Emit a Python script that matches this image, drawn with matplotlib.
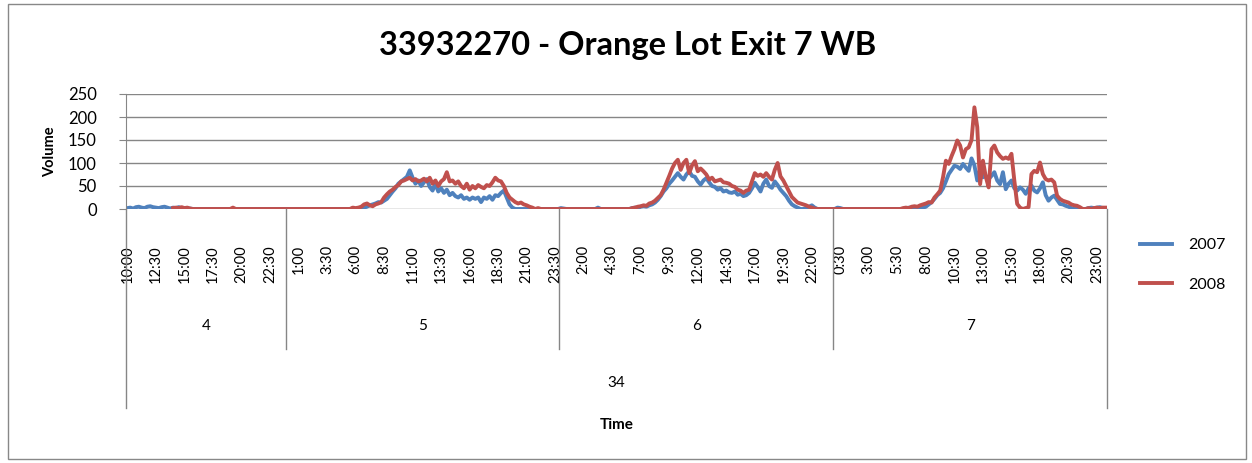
import numpy as np
import matplotlib
matplotlib.use("Agg")
import matplotlib.pyplot as plt
from matplotlib.patches import Rectangle
from matplotlib.transforms import blended_transform_factory

plt.rcParams["font.family"] = ["Lato", "DejaVu Sans"]

# 15-minute volumes, one list per day (day 4 starts at 10:00, the rest at 0:00)
N = None
day4_2007 = [2, 3, 1, 4, 5, 3, 2, 5,
             6, 4, 3, 2, 4, 5, 3, 1,
             3, 2, 4, 1, 2, 0, 1, 0,
             0, 0, 0, 0, 0, 0, 0, 0,
             0, 0, 0, 0, 0, 0, 0, 0,
             0, 0, 0, 0, 0, 0, 0, 0,
             0, 0, 0, 0, 0, 0, 0, 0]
day4_2008 = [N, N, N, N, N, N, N, N,
             N, N, N, N, N, N, N, N,
             2, 3, 2, 4, 2, 3, 1, 0,
             0, 0, 0, 0, 0, 0, 0, 0,
             0, 0, 0, 0, 0, 3, 0, 0,
             0, 0, 0, 0, 0, 0, 0, 0,
             0, 0, 0, 0, 0, 0, 0, 0]

day5_2007 = [0, 0, 0, 0, 0, 0, 0, 0,
             0, 0, 0, 0, 0, 0, 0, 0,
             0, 0, 0, 0, 0, 0, 0, 0,
             0, 1, 2, 3, 5, 8, 10, 12,
             15, 14, 18, 22, 30, 38, 45, 55,
             60, 65, 70, 84, 68, 55, 62, 50,
             58, 65, 48, 40, 55, 38, 45, 35,
             42, 30, 35, 28, 25, 30, 22, 25,
             20, 25, 22, 25, 15, 25, 22, 28,
             20, 30, 28, 35, 40, 25, 10, 3,
             0, 0, 0, 0, 0, 0, 0, 0,
             0, 0, 0, 0, 0, 0, 0, 0]
day5_2008 = [0, 0, 0, 0, 0, 0, 0, 0,
             0, 0, 0, 0, 0, 0, 0, 0,
             0, 0, 0, 0, 0, 0, 0, 3,
             2, 3, 5, 10, 12, 8, 6, 10,
             12, 15, 25, 32, 38, 42, 48, 52,
             60, 62, 65, 68, 62, 65, 60, 62,
             66, 60, 68, 55, 62, 50, 60, 65,
             80, 60, 62, 55, 60, 50, 45, 55,
             42, 50, 45, 52, 48, 45, 52, 50,
             58, 68, 62, 60, 50, 35, 25, 20,
             15, 12, 14, 10, 8, 5, 3, 0,
             2, 0, 0, 0, 0, 0, 0, 0]

day6_2007 = [2, 1, 0, 0, 0, 0, 0, 0,
             0, 0, 0, 0, 0, 3, 0, 0,
             0, 0, 0, 0, 0, 0, 0, 0,
             0, 2, 3, 2, 5, 6, 5, 8,
             10, 14, 20, 28, 38, 45, 55, 62,
             70, 78, 70, 64, 75, 82, 72, 70,
             60, 53, 62, 67, 58, 50, 48, 42,
             45, 38, 40, 36, 35, 38, 31, 33,
             28, 30, 35, 45, 57, 48, 38, 55,
             64, 50, 46, 60, 52, 42, 35, 28,
             18, 10, 6, 3, 0, 0, 2, 5,
             8, 3, 0, 0, 0, 0, 0, 0]
day6_2008 = [0, 0, 0, 0, 0, 0, 0, 0,
             0, 0, 0, 0, 0, 0, 0, 0,
             0, 0, 0, 0, 0, 0, 0, 0,
             0, 2, 3, 5, 6, 8, 7, 12,
             14, 18, 24, 30, 42, 57, 72, 88,
             100, 107, 85, 100, 107, 78, 95, 104,
             82, 88, 82, 75, 64, 68, 60, 62,
             64, 58, 57, 55, 50, 48, 42, 40,
             35, 40, 42, 60, 78, 72, 75, 70,
             78, 70, 64, 85, 100, 71, 62, 50,
             38, 26, 20, 14, 12, 10, 8, 5,
             3, 1, 0, 0, 0, 0, 0, 0]

day7_2007 = [0, 3, 2, 0, 0, 0, 0, 0,
             0, 0, 0, 0, 0, 0, 0, 0,
             0, 0, 0, 0, 0, 0, 0, 0,
             0, 0, 3, 2, 3, 3, 3, 3,
             5, 10, 15, 22, 30, 35, 45, 60,
             76, 85, 94, 92, 87, 98, 90, 83,
             110, 95, 62, 87, 69, 72, 65, 72,
             80, 62, 54, 80, 43, 55, 62, 45,
             40, 47, 42, 33, 45, 51, 40, 36,
             45, 58, 30, 18, 25, 29, 20, 11,
             10, 7, 5, 2, 0, 0, 0, 0,
             0, 2, 3, 2, 3, 4, 2, 0]
day7_2008 = [0, 0, 0, 0, 0, 0, 0, 0,
             0, 0, 0, 0, 0, 0, 0, 0,
             0, 0, 0, 0, 0, 0, 0, 0,
             2, 3, 2, 5, 6, 5, 8, 10,
             12, 15, 14, 25, 32, 40, 69, 105,
             98, 115, 130, 149, 138, 112, 130, 134,
             150, 221, 178, 54, 105, 70, 47, 130,
             138, 123, 115, 109, 112, 109, 120, 62,
             11, 3, 0, 2, 4, 76, 83, 80,
             101, 76, 65, 62, 64, 58, 29, 22,
             18, 16, 14, 10, 8, 7, 4, 0,
             0, 2, 0, 2, 3, 2, 3, 3]

days = ["4", "5", "6", "7"]
week = "34"
time_labels = ["10:00", "12:30", "15:00", "17:30", "20:00", "22:30",
               "1:00", "3:30", "6:00", "8:30", "11:00", "13:30", "16:00", "18:30", "21:00", "23:30",
               "2:00", "4:30", "7:00", "9:30", "12:00", "14:30", "17:00", "19:30", "22:00",
               "0:30", "3:00", "5:30", "8:00", "10:30", "13:00", "15:30", "18:00", "20:30", "23:00"]
series_names = ["2007", "2008"]
y_ticks = [0, 50, 100, 150, 200, 250]

vol_2007 = np.array(day4_2007 + day5_2007 + day6_2007 + day7_2007, dtype=float)
vol_2008 = np.array(day4_2008 + day5_2008 + day6_2008 + day7_2008, dtype=float)
day_sizes = [len(day4_2007), len(day5_2007), len(day6_2007), len(day7_2007)]
bounds = np.concatenate([[0], np.cumsum(day_sizes)])
n = len(vol_2007)
x = np.arange(n) + 0.5

W, H = 1252, 463
fig = plt.figure(figsize=(W / 100, H / 100), dpi=100)
fig.patches.append(Rectangle((8 / W, 4 / H), 1238 / W, 455 / H, transform=fig.transFigure,
                             fill=False, edgecolor="#888888", linewidth=1))

ax = fig.add_axes([126 / W, 1 - 209 / H, (1107 - 126) / W, (209 - 94) / H])
ax.plot(x, vol_2007, color="#4F81BD", lw=2.8, label=series_names[0], solid_joinstyle="round")
ax.plot(x, vol_2008, color="#C0504D", lw=2.8, label=series_names[1], solid_joinstyle="round")

ax.set_xlim(0, n)
ax.set_ylim(0, 250)
ax.set_yticks(y_ticks)
ax.yaxis.grid(True, color="#868686", lw=1)
ax.set_axisbelow(True)
for s in ["top", "right", "bottom"]:
    ax.spines[s].set_visible(False)
ax.spines["left"].set_color("#868686")
ax.tick_params(axis="y", direction="out", length=5, color="#868686", labelsize=12, pad=16)

ax.set_xticks(np.arange(len(time_labels)) * 10 + 0.5)
ax.set_xticklabels(time_labels, rotation=90, va="top", ha="center", fontsize=10.5)
ax.tick_params(axis="x", length=0, pad=26)

ax.set_ylabel("Volume", fontweight="bold", fontsize=10.5, labelpad=8)

# multi-level category axis: day and week rows
tr = blended_transform_factory(ax.transData, fig.transFigure)
for i, b in enumerate(bounds):
    bottom = 408 if i in (0, len(bounds) - 1) else 349
    ax.plot([b, b], [1 - 209 / H, 1 - bottom / H], color="#868686", lw=1,
            transform=tr, clip_on=False)
for i, d in enumerate(days):
    ax.text((bounds[i] + bounds[i + 1]) / 2, 1 - 326 / H, d, transform=tr,
            ha="center", va="center", fontsize=11)
ax.text(n / 2, 1 - 383 / H, week, transform=tr, ha="center", va="center", fontsize=11)
ax.text(n / 2, 1 - 425 / H, "Time", transform=tr, ha="center", va="center",
        fontsize=11, fontweight="bold")

fig.text(628 / W, 1 - 45 / H, "33932270 - Orange Lot Exit 7 WB", ha="center", va="center",
         fontsize=23.5, fontweight="bold")

fig.legend(loc="upper left", bbox_to_anchor=(1140 / W, 1 - 238 / H), frameon=False,
           fontsize=11.5, handlelength=2.0, handletextpad=1.0, labelspacing=1.6,
           borderpad=0, borderaxespad=0)

fig.savefig("out.png", dpi=100)
